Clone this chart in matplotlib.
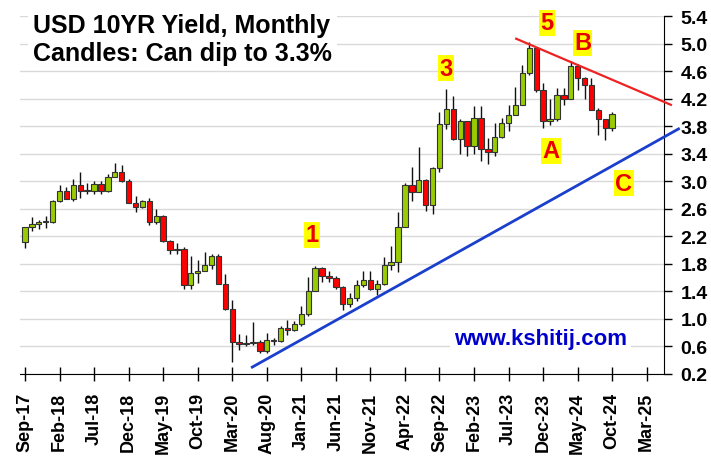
import numpy as np
import matplotlib
matplotlib.use("Agg")
import matplotlib.pyplot as plt
from matplotlib.patches import Rectangle

plt.rcParams["font.family"] = ["Liberation Sans", "DejaVu Sans"]
plt.rcParams["font.weight"] = "bold"

# monthly candles, Sep-17 .. Oct-24 (last one partial)
opens = [2.12, 2.33, 2.38, 2.41,
         2.41, 2.72, 2.86, 2.74, 2.95, 2.86, 2.86, 2.96, 2.86, 3.06, 3.14, 3.01,
         2.69, 2.63, 2.72, 2.41, 2.50, 2.13, 2.00, 2.02, 1.50, 1.67, 1.69, 1.78,
         1.92, 1.51, 1.15, 0.67, 0.64, 0.65, 0.66, 0.53, 0.70, 0.68, 0.87, 0.84,
         0.92, 1.07, 1.41, 1.74, 1.63, 1.59, 1.47, 1.22, 1.31, 1.49, 1.56, 1.44,
         1.51, 1.78, 1.83, 2.34, 2.94, 2.85, 3.02, 2.65, 3.19, 3.83, 4.05, 3.61,
         3.87, 3.51, 3.92, 3.47, 3.42, 3.64, 3.84, 3.96, 4.11, 4.57, 4.93, 4.33,
         3.88, 3.91, 4.25, 4.20, 4.68, 4.50, 4.40, 4.03, 3.90, 3.78]
highs = [2.34, 2.48, 2.44, 2.50,
         2.73, 2.95, 2.91, 3.03, 3.13, 2.98, 3.00, 3.00, 3.10, 3.26, 3.24, 3.03,
         2.79, 2.73, 2.75, 2.60, 2.51, 2.14, 2.10, 2.05, 1.91, 1.85, 1.97, 1.95,
         1.94, 1.65, 1.27, 0.78, 0.77, 0.96, 0.69, 0.79, 0.72, 0.89, 0.98, 0.97,
         1.19, 1.61, 1.77, 1.75, 1.70, 1.62, 1.48, 1.38, 1.56, 1.70, 1.69, 1.56,
         1.90, 2.06, 2.56, 2.98, 3.20, 3.50, 3.03, 3.20, 4.01, 4.34, 4.24, 3.91,
         3.88, 4.09, 4.09, 3.63, 3.85, 3.92, 4.11, 4.37, 4.69, 5.02, 4.93, 4.43,
         4.20, 4.35, 4.35, 4.74, 4.70, 4.52, 4.50, 4.06, 3.91, 4.00]
lows = [2.03, 2.28, 2.30, 2.32,
        2.40, 2.70, 2.74, 2.72, 2.76, 2.82, 2.82, 2.81, 2.85, 3.06, 2.99, 2.68,
        2.55, 2.61, 2.37, 2.38, 2.12, 1.94, 1.95, 1.43, 1.43, 1.52, 1.69, 1.72,
        1.51, 1.13, 0.38, 0.55, 0.60, 0.62, 0.50, 0.51, 0.62, 0.66, 0.76, 0.83,
        0.90, 1.04, 1.40, 1.53, 1.53, 1.43, 1.13, 1.17, 1.26, 1.47, 1.42, 1.35,
        1.50, 1.71, 1.68, 2.34, 2.71, 2.84, 2.57, 2.52, 3.14, 3.76, 3.60, 3.40,
        3.37, 3.40, 3.29, 3.25, 3.37, 3.63, 3.73, 3.96, 4.11, 4.55, 4.30, 3.78,
        3.82, 3.87, 4.11, 4.19, 4.33, 4.19, 4.03, 3.67, 3.60, 3.73]
closes = [2.33, 2.38, 2.41, 2.41,
          2.72, 2.86, 2.74, 2.95, 2.86, 2.86, 2.96, 2.86, 3.06, 3.14, 3.01, 2.69,
          2.63, 2.72, 2.41, 2.50, 2.13, 2.00, 2.02, 1.50, 1.67, 1.69, 1.78, 1.92,
          1.51, 1.15, 0.67, 0.64, 0.65, 0.66, 0.53, 0.70, 0.68, 0.87, 0.84, 0.92,
          1.07, 1.41, 1.74, 1.63, 1.59, 1.47, 1.22, 1.31, 1.49, 1.56, 1.44, 1.51,
          1.78, 1.83, 2.34, 2.94, 2.85, 3.02, 2.65, 3.19, 3.83, 4.05, 3.61, 3.87,
          3.51, 3.92, 3.47, 3.42, 3.64, 3.84, 3.96, 4.11, 4.57, 4.93, 4.33, 3.88,
          3.91, 4.25, 4.20, 4.68, 4.50, 4.40, 4.03, 3.90, 3.78, 3.98]

# x tick labels every 5 months from Sep-17
tick_months = list(range(0, 91, 5))
tick_labels = ["Sep-17", "Feb-18", "Jul-18", "Dec-18", "May-19", "Oct-19",
               "Mar-20", "Aug-20", "Jan-21", "Jun-21", "Nov-21", "Apr-22",
               "Sep-22", "Feb-23", "Jul-23", "Dec-23", "May-24", "Oct-24",
               "Mar-25"]
y_ticks = [0.2, 0.6, 1.0, 1.4, 1.8, 2.2, 2.6, 3.0, 3.4, 3.8, 4.2, 4.6, 5.0, 5.4]

# trend lines (month index, yield)
support_x = [32.9, 94.6]
support_y = [0.30, 3.76]
resist_x = [71.1, 93.5]
resist_y = [5.07, 4.11]

# wave labels
wave_text = ["1", "3", "5", "A", "B", "C"]
wave_x = [41.6, 61.0, 75.6, 76.2, 80.7, 86.7]
wave_y = [2.22, 4.64, 5.30, 3.44, 5.01, 2.97]

GREEN = "#99CC00"
RED = "#FF0000"

fig = plt.figure(figsize=(7.11, 4.60), dpi=100)
ax = fig.add_axes([20 / 711, 85 / 460, 644 / 711, 358 / 460])

ax.set_xlim(-0.72, 92.5)
ax.set_ylim(0.2, 5.4)

for yv in y_ticks:
    ax.axhline(yv, color="#D9D9D9", lw=1, zorder=0)

w = 0.78
for i in range(len(opens)):
    o, h, l, c = opens[i], highs[i], lows[i], closes[i]
    ax.plot([i, i], [l, h], color="#111111", lw=1, zorder=2, solid_capstyle="butt")
    col = GREEN if c >= o else RED
    bottom = min(o, c)
    height = max(abs(c - o), 0.015)
    ax.add_patch(Rectangle((i - w / 2, bottom), w, height, facecolor=col,
                           edgecolor="#333333", lw=0.8, zorder=3))

ax.plot(support_x, support_y, color="#1A3FCC", lw=2, clip_on=False, zorder=4)
ax.plot(resist_x, resist_y, color="#EE2222", lw=1.6, clip_on=False, zorder=4)

for t, xv, yv in zip(wave_text, wave_x, wave_y):
    ax.text(xv, yv, t, color="#E80000", fontsize=17, fontweight="bold",
            ha="center", va="center", zorder=5,
            bbox=dict(facecolor="#FFFF00", edgecolor="none", pad=1))

ax.text(74.6, 0.72, "www.kshitij.com", color="#0000CC", fontsize=16,
        fontweight="bold", ha="center", va="center", zorder=5,
        bbox=dict(facecolor="white", edgecolor="none", pad=3))

fig.text(33 / 711, 1 - 40 / 460, "USD 10YR Yield, Monthly\nCandles: Can dip to 3.3%",
         fontsize=18, fontweight="bold", ha="left", va="center", linespacing=1.2,
         bbox=dict(facecolor="white", edgecolor="none", pad=4))

# axes styling
for s in ["top", "left"]:
    ax.spines[s].set_visible(False)
ax.spines["bottom"].set_color("black")
ax.spines["right"].set_color("black")
ax.yaxis.tick_right()
ax.set_yticks(y_ticks)
ax.set_yticklabels([f"{v:.1f}" for v in y_ticks], fontsize=14, fontweight="bold")
ax.tick_params(axis="y", direction="out", length=6, width=1, pad=6)
ax.set_xticks(tick_months)
ax.set_xticklabels(tick_labels, rotation=90, fontsize=13, fontweight="bold")
ax.tick_params(axis="x", direction="inout", length=10, width=1, pad=8)

fig.savefig("out.png", dpi=100, facecolor="white")
